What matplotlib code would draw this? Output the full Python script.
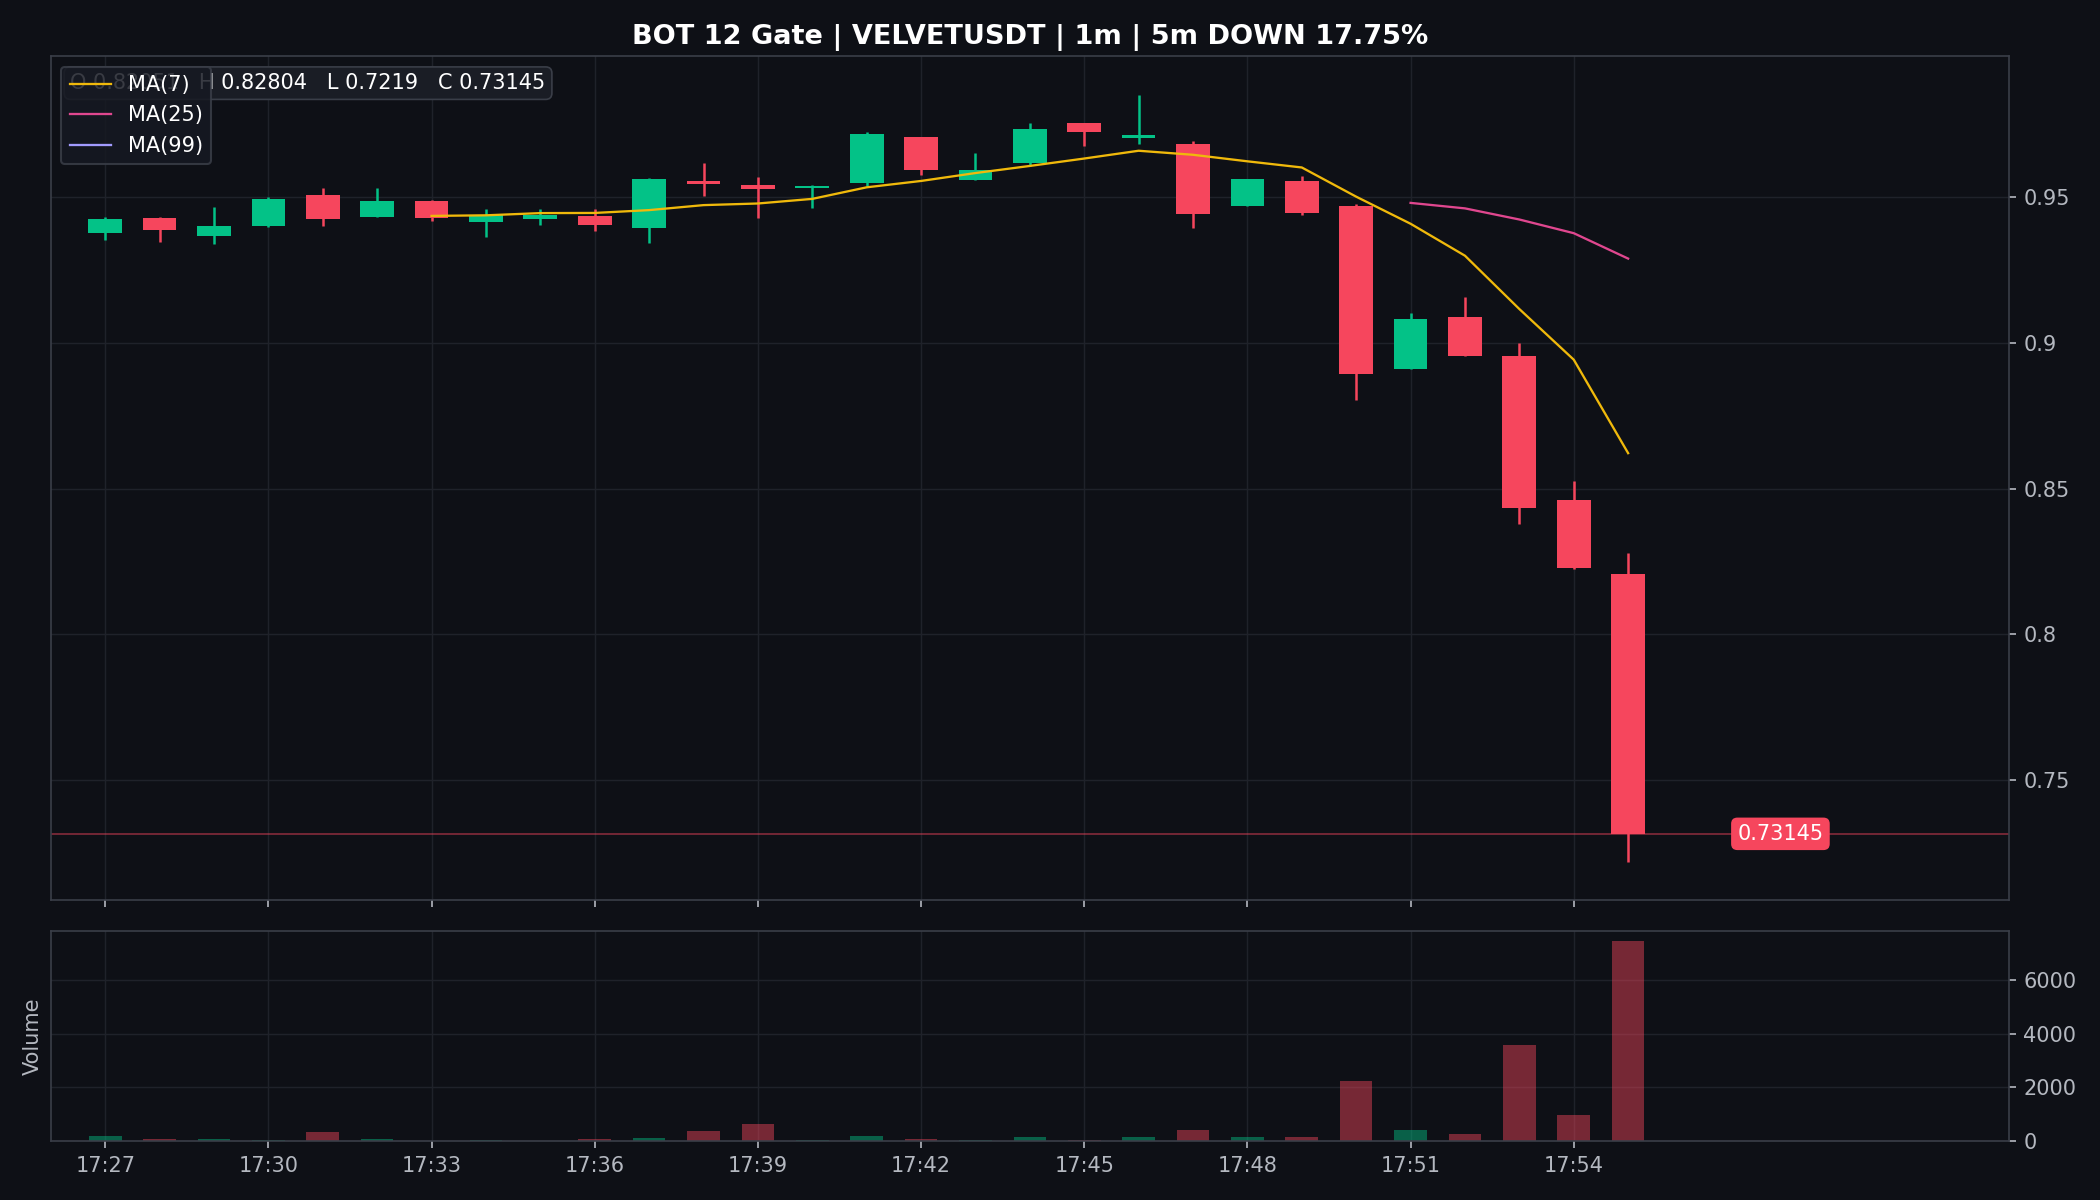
"""Candlestick + volume panel, dark theme (1m bars, VELVETUSDT)."""
import matplotlib
matplotlib.use("Agg")
import matplotlib.pyplot as plt  # noqa: E402
import numpy as np  # noqa: E402
import pandas as pd  # noqa: E402

TITLE = "BOT 12 Gate | VELVETUSDT | 1m | 5m DOWN 17.75%"

times = ["17:27", "17:28", "17:29", "17:30", "17:31", "17:32", "17:33", "17:34",
         "17:35", "17:36", "17:37", "17:38", "17:39", "17:40", "17:41", "17:42",
         "17:43", "17:44", "17:45", "17:46", "17:47", "17:48", "17:49", "17:50",
         "17:51", "17:52", "17:53", "17:54", "17:55"]
opens = [0.9379, 0.9431, 0.9367, 0.9402, 0.9510, 0.9433, 0.9489, 0.9415,
         0.9426, 0.9435, 0.9395, 0.9557, 0.9543, 0.9532, 0.9549, 0.9706,
         0.9561, 0.9619, 0.9754, 0.9705, 0.9682, 0.9470, 0.9555, 0.9469,
         0.8911, 0.9090, 0.8956, 0.8462, 0.8207]
highs = [0.9433, 0.9432, 0.9466, 0.9503, 0.9534, 0.9534, 0.9490, 0.9459,
         0.9461, 0.9461, 0.9565, 0.9619, 0.9571, 0.9541, 0.9723, 0.9707,
         0.9651, 0.9754, 0.9757, 0.9853, 0.9694, 0.9563, 0.9572, 0.9476,
         0.9102, 0.9157, 0.9000, 0.8526, 0.82804]
lows = [0.9353, 0.9347, 0.9339, 0.9397, 0.9402, 0.9432, 0.9418, 0.9364,
        0.9405, 0.9385, 0.9343, 0.9504, 0.9430, 0.9463, 0.9538, 0.9576,
        0.9560, 0.9609, 0.9676, 0.9683, 0.9395, 0.9469, 0.9438, 0.8805,
        0.8910, 0.8955, 0.8377, 0.8225, 0.7219]
closes = [0.9427, 0.9388, 0.9401, 0.9496, 0.9426, 0.9489, 0.9429, 0.9441,
          0.9441, 0.9405, 0.9564, 0.9546, 0.9528, 0.9540, 0.9719, 0.9594,
          0.9595, 0.9735, 0.9724, 0.9715, 0.9443, 0.9562, 0.9446, 0.8893,
          0.9084, 0.8956, 0.8433, 0.8226, 0.73145]
volumes = [186, 75, 75, 37, 335, 75, 12, 37, 5, 75, 112, 373, 633, 37, 186,
           75, 37, 149, 37, 149, 410, 149, 149, 2236, 410, 273, 3577, 969, 7452]
ma_periods = [7, 25, 99]
ma_colors = ["#f0b90b", "#e0478f", "#a29bfe"]

BG = "#0e1016"
GREEN = "#03c287"
RED = "#f6465d"
GRID = "#1f222a"
SPINE = "#3a3e48"
TXT = "#b4b8c0"

df = pd.DataFrame({"o": opens, "h": highs, "l": lows, "c": closes, "v": volumes})
x = np.arange(len(df))
up = df["c"] >= df["o"]
cols = np.where(up, GREEN, RED)

fig = plt.figure(figsize=(14, 8), dpi=150, facecolor=BG)
ax = fig.add_axes([0.0242, 0.25, 0.9324, 0.7031], facecolor=BG)
axv = fig.add_axes([0.0242, 0.0491, 0.9324, 0.1752], facecolor=BG, sharex=ax)

# candles
ax.vlines(x, df["l"], df["h"], colors=cols, lw=1.2, zorder=2)
body = (df["c"] - df["o"]).abs().clip(lower=0.0004)
ax.bar(x, body, 0.62, bottom=df[["o", "c"]].min(axis=1), color=cols, zorder=3)

for n, colr in zip(ma_periods, ma_colors):
    ax.plot(x, df["c"].rolling(n).mean(), color=colr, lw=1.1, label=f"MA({n})", zorder=4)

last = closes[-1]
ax.axhline(last, color=RED, lw=0.9, alpha=0.45, zorder=1)
ax.text(30.8, last, f"{last:.5f}", color="white", fontsize=10, ha="center", va="center",
        bbox=dict(boxstyle="round,pad=0.3", fc=RED, ec="none"), zorder=6)

rng = max(highs) - min(lows)
ax.set_ylim(min(lows) - 0.05 * rng, max(highs) + 0.05 * rng)
ax.set_xlim(-1, len(df) + 6)
ax.set_yticks([0.75, 0.8, 0.85, 0.9, 0.95])
ax.set_yticklabels(["0.75", "0.8", "0.85", "0.9", "0.95"])

ax.text(0.01, 0.98, f"O 0.82051   H {highs[-1]}   L {lows[-1]}   C {last}", transform=ax.transAxes,
        color="white", fontsize=10, ha="left", va="top", zorder=5,
        bbox=dict(boxstyle="round,pad=0.3", fc="#1a1d25", ec="#3a3e48", lw=0.8))
leg = ax.legend(loc="upper left", fontsize=10, facecolor="#161922", edgecolor="#3a3e48",
                labelcolor="white", framealpha=0.85, borderpad=0.4, handlelength=2.0)
leg.set_zorder(7)

ax.set_title(TITLE, color="white", fontsize=13, fontweight="bold", pad=6)

# volume
axv.bar(x, df["v"], 0.6, color=cols, alpha=0.45)
axv.set_ylim(0, max(volumes) * 1.05)
axv.set_yticks([0, 2000, 4000, 6000])
axv.set_ylabel("Volume", color=TXT, fontsize=10)

ticks = x[::3]
axv.set_xticks(ticks)
axv.set_xticklabels([times[i] for i in ticks])

for a in (ax, axv):
    a.yaxis.tick_right()
    a.tick_params(colors=TXT, labelsize=10)
    a.grid(True, color=GRID, lw=0.7)
    a.set_axisbelow(True)
    for s in a.spines.values():
        s.set_color(SPINE)
plt.setp(ax.get_xticklabels(), visible=False)

fig.savefig("out.png", dpi=150, facecolor=BG)
